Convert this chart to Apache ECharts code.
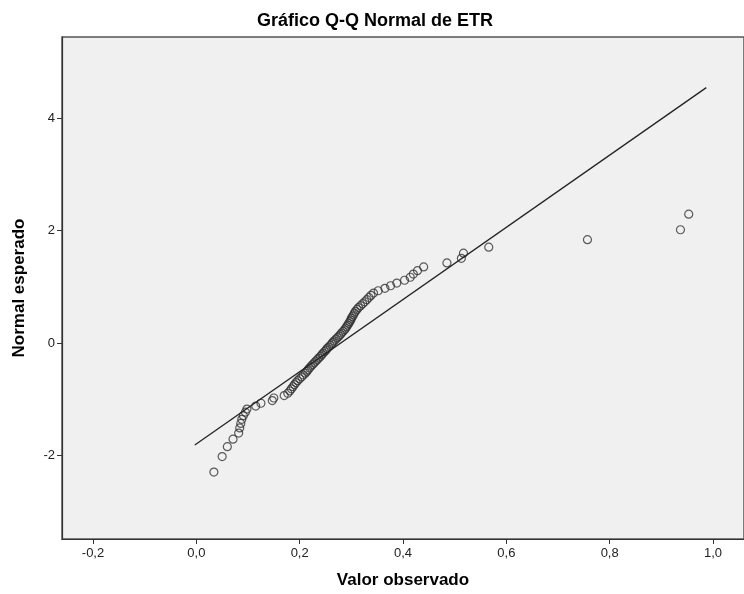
<!DOCTYPE html>
<html>
<head>
<meta charset="utf-8">
<script src="https://cdn.jsdelivr.net/npm/echarts@6/dist/echarts.min.js"></script>
<style>
html,body{margin:0;padding:0;background:#fff;}
#chart{width:744px;height:594px;}
</style>
</head>
<body>
<div id="chart"></div>
<script>
// valores observados de ETR (ordenados) e normal esperado
var valorObservado = [
	0.034, 0.050, 0.060, 0.071, 0.082, 0.084, 0.086, 0.088, 0.091, 0.095,
	0.098, 0.115, 0.125, 0.147, 0.150, 0.170, 0.177, 0.181, 0.184, 0.187,
	0.190, 0.193, 0.196, 0.200, 0.204, 0.207, 0.211, 0.214, 0.216, 0.219,
	0.222, 0.225, 0.228, 0.231, 0.234, 0.237, 0.240, 0.243, 0.245, 0.248,
	0.251, 0.253, 0.256, 0.259, 0.262, 0.264, 0.267, 0.270, 0.273, 0.276,
	0.279, 0.281, 0.284, 0.287, 0.289, 0.291, 0.293, 0.295, 0.297, 0.299,
	0.300, 0.302, 0.304, 0.306, 0.308, 0.311, 0.314, 0.318, 0.322, 0.326,
	0.330, 0.334, 0.338, 0.343, 0.352, 0.365, 0.376, 0.388, 0.403, 0.414,
	0.420, 0.428, 0.440, 0.485, 0.513, 0.517, 0.566, 0.757, 0.937, 0.953
];
var normalEsperado = [
	-2.291, -2.015, -1.839, -1.706, -1.598, -1.507, -1.426, -1.354, -1.288, -1.227,
	-1.171, -1.118, -1.068, -1.020, -0.975, -0.931, -0.890, -0.849, -0.811, -0.773,
	-0.736, -0.701, -0.666, -0.632, -0.599, -0.566, -0.534, -0.502, -0.471, -0.441,
	-0.410, -0.381, -0.351, -0.322, -0.293, -0.265, -0.236, -0.208, -0.180, -0.152,
	-0.124, -0.097, -0.069, -0.041, -0.014, 0.014, 0.041, 0.069, 0.097, 0.124,
	0.152, 0.180, 0.208, 0.236, 0.265, 0.293, 0.322, 0.351, 0.381, 0.410,
	0.441, 0.471, 0.502, 0.534, 0.566, 0.599, 0.632, 0.666, 0.701, 0.736,
	0.773, 0.811, 0.849, 0.890, 0.931, 0.975, 1.020, 1.068, 1.118, 1.171,
	1.227, 1.288, 1.354, 1.426, 1.507, 1.598, 1.706, 1.839, 2.015, 2.291
];
// reta de referencia
var retaX = [-0.003, 0.987];
var retaY = [-1.81, 4.54];
// marcas dos eixos
var xTicks = [-0.2, 0, 0.2, 0.4, 0.6, 0.8, 1.0];
var yTicks = [-2, 0, 2, 4];

var pontos = valorObservado.map(function(v, i){ return [v, normalEsperado[i]]; });
var reta = retaX.map(function(v, i){ return [v, retaY[i]]; });

var fonte = '"Liberation Sans", Arial, sans-serif';
var chart = echarts.init(document.getElementById('chart'));
var option = {
	animation: false,
	title: {
		text: 'Gráfico Q-Q Normal de ETR',
		left: 252,
		top: 7,
		textStyle: {
			fontFamily: fonte,
			fontSize: 18,
			fontWeight: 'bold',
			color: '#000'
		}
	},
	grid: {
		left: 62,
		right: 0,
		top: 37,
		bottom: 53,
		show: true,
		backgroundColor: '#f0f0f0',
		borderColor: '#555',
		borderWidth: 1.5
	},
	xAxis: {
		type: 'value',
		min: -0.26,
		max: 1.06,
		name: 'Valor observado',
		nameLocation: 'middle',
		nameGap: 33,
		nameTextStyle: {
			fontFamily: fonte,
			fontSize: 17,
			fontWeight: 'bold',
			color: '#000'
		},
		axisLine: { onZero: false, lineStyle: { color: '#333', width: 1.2 } },
		axisTick: { show: true, inside: false, length: 5, customValues: xTicks, lineStyle: { color: '#333' } },
		axisLabel: {
			customValues: xTicks,
			margin: 8,
			fontFamily: fonte,
			fontSize: 13,
			color: '#222',
			formatter: function(v){ return v.toFixed(1).replace('.', ','); }
		},
		splitLine: { show: false }
	},
	yAxis: {
		type: 'value',
		min: -3.48,
		max: 5.44,
		name: 'Normal esperado',
		nameLocation: 'middle',
		nameGap: 34,
		nameTextStyle: {
			fontFamily: fonte,
			fontSize: 17,
			fontWeight: 'bold',
			color: '#000'
		},
		axisLine: { onZero: false, lineStyle: { color: '#333', width: 1.2 } },
		axisTick: { show: true, inside: false, length: 5, customValues: yTicks, lineStyle: { color: '#333' } },
		axisLabel: {
			customValues: yTicks,
			margin: 7,
			fontFamily: fonte,
			fontSize: 13,
			color: '#222'
		},
		splitLine: { show: false }
	},
	series: [
		{
			type: 'line',
			data: reta,
			symbol: 'none',
			lineStyle: { color: '#222', width: 1.3 },
			silent: true
		},
		{
			type: 'scatter',
			data: pontos,
			symbol: 'circle',
			symbolSize: 8,
			itemStyle: {
				color: 'transparent',
				borderColor: '#333',
				borderWidth: 1.2
			}
		}
	]
};
chart.setOption(option);
</script>
</body>
</html>
